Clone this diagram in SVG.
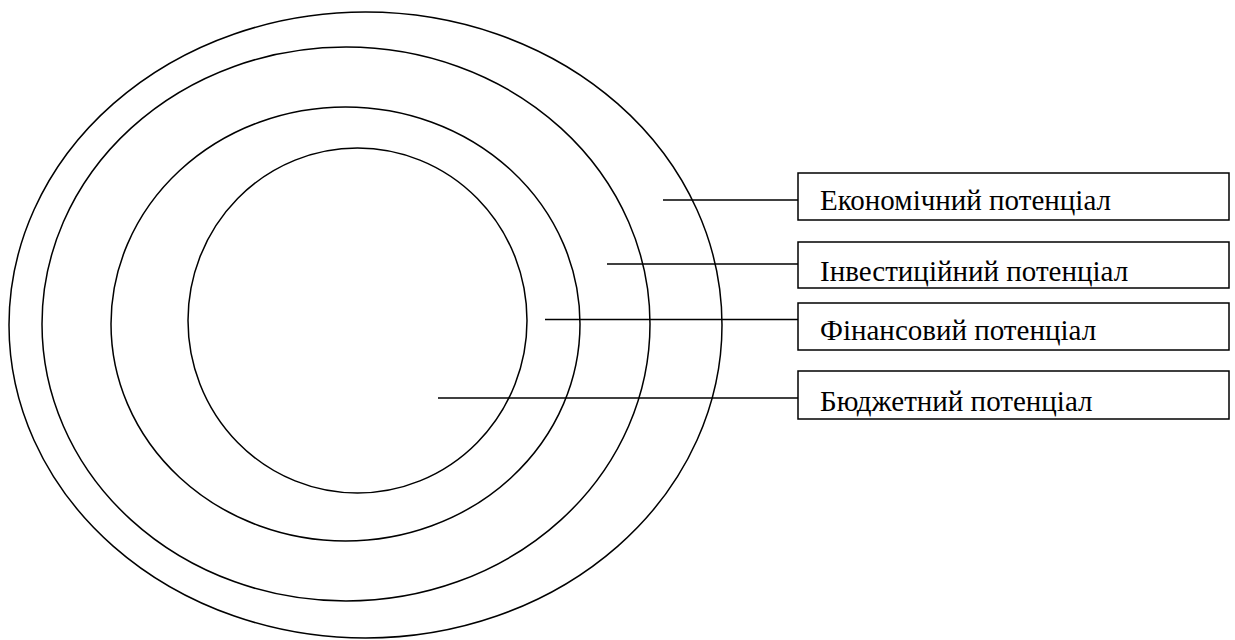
<svg xmlns="http://www.w3.org/2000/svg" width="1235" height="640" viewBox="0 0 1235 640">
<style>
.e{fill:none;stroke:#000;stroke-width:1.5}
.b{fill:#fff;stroke:#000;stroke-width:1.5}
.l{stroke:#000;stroke-width:1.5}
</style>
<rect width="1235" height="640" fill="#fff"/>
<g id="rings">
<ellipse id="outer" class="e" cx="365.5" cy="325" rx="356.5" ry="313"/>
<ellipse id="ring2" class="e" cx="346" cy="324" rx="304" ry="277"/>
<ellipse id="ring3" class="e" cx="345.5" cy="324" rx="234.5" ry="217"/>
<ellipse id="inner" class="e" cx="357.5" cy="320.5" rx="169.5" ry="172.5"/>
</g>
<g id="connectors">
<line class="l" x1="663" y1="200" x2="798" y2="200"/>
<line class="l" x1="607" y1="264" x2="798" y2="264"/>
<line class="l" x1="545" y1="319.5" x2="798" y2="319.5"/>
<line class="l" x1="438" y1="398" x2="798" y2="398"/>
</g>
<g id="n1"><rect class="b" x="798" y="173" width="431" height="47"/><text x="820" y="210" font-family="Liberation Serif" font-size="29">Економічний потенціал</text></g>
<g id="n2"><rect class="b" x="798" y="242" width="431" height="46"/><text x="820" y="281" font-family="Liberation Serif" font-size="29">Інвестиційний потенціал</text></g>
<g id="n3"><rect class="b" x="798" y="303" width="431" height="47"/><text x="820" y="340" font-family="Liberation Serif" font-size="29">Фінансовий потенціал</text></g>
<g id="n4"><rect class="b" x="798" y="371" width="431" height="48"/><text x="820" y="411" font-family="Liberation Serif" font-size="29">Бюджетний потенціал</text></g>
</svg>
